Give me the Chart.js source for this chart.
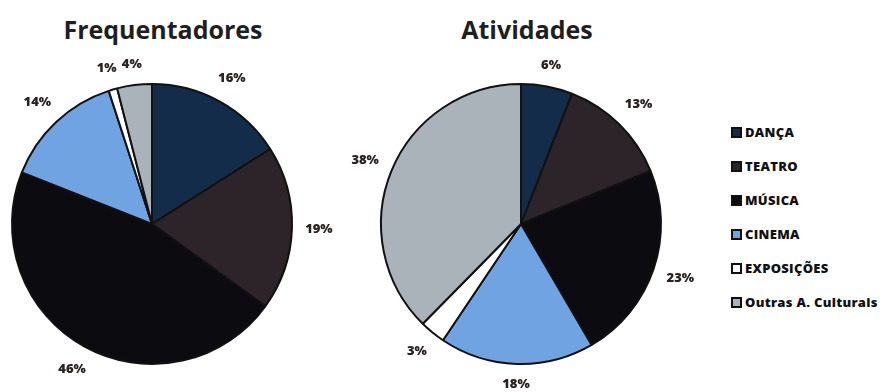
<!DOCTYPE html>
<html>
<head>
<meta charset="utf-8">
<script src="https://cdn.jsdelivr.net/npm/chart.js@4/dist/chart.umd.min.js"></script>
<style>
  body { margin: 0; width: 888px; height: 392px; background: #fff; position: relative; overflow: hidden; font-family: "Open Sans", sans-serif; }
  .title { position: absolute; top: 12px; font-weight: bold; font-size: 25px; color: #1f1f1f; transform: translateX(-50%); white-space: nowrap; line-height: 34px; }
  canvas { position: absolute; top: 0; }
  #legend { position: absolute; left: 731px; top: 115px; }
  .item { display: flex; align-items: center; height: 34px; font-weight: 800; font-size: 13px; color: #111; white-space: nowrap; letter-spacing: 0.3px; }
  .box { width: 7px; height: 7px; border: 2px solid #111; margin-right: 3px; }
</style>
</head>
<body>
<div class="title" style="left:163px">Frequentadores</div>
<div class="title" style="left:527px">Atividades</div>
<canvas id="pie1" width="345" height="392" style="left:0"></canvas>
<canvas id="pie2" width="375" height="392" style="left:345px"></canvas>
<div id="legend"></div>
<script>
const categories = ['DANÇA', 'TEATRO', 'MÚSICA', 'CINEMA', 'EXPOSIÇÕES', 'Outras A. Culturais'];
const frequentadores = [16, 19, 46, 14, 1, 4];
const atividades = [6, 13, 23, 18, 3, 38];
const colors = ['#132c4a', '#2c2429', '#0c0c10', '#6fa3e2', '#ffffff', '#aab3ba'];

// percentage labels just outside each slice
const pctLabels = {
  id: 'pctLabels',
  afterDatasetsDraw(chart) {
    const ctx = chart.ctx;
    const meta = chart.getDatasetMeta(0);
    const vals = chart.data.datasets[0].data;
    ctx.save();
    ctx.font = '800 13px "Open Sans"';
    ctx.fillStyle = '#2a2222';
    ctx.textAlign = 'center';
    ctx.textBaseline = 'middle';
    meta.data.forEach((arc, i) => {
      const p = arc.getProps(['x', 'y', 'startAngle', 'endAngle', 'outerRadius'], true);
      const mid = (p.startAngle + p.endAngle) / 2;
      const text = vals[i] + '%';
      const halfW = ctx.measureText(text).width / 2;
      const d = p.outerRadius + 13 + halfW * Math.abs(Math.cos(mid)) + 7 * Math.abs(Math.sin(mid));
      ctx.fillText(text, p.x + Math.cos(mid) * d, p.y + Math.sin(mid) * d);
    });
    ctx.restore();
  }
};

function makePie(id, values, padding) {
  new Chart(document.getElementById(id), {
    type: 'pie',
    data: {
      labels: categories,
      datasets: [{
        data: values,
        backgroundColor: colors,
        borderColor: '#111',
        borderWidth: 2
      }]
    },
    options: {
      responsive: false,
      animation: false,
      layout: { padding: padding },
      plugins: {
        legend: { display: false },
        tooltip: { enabled: false }
      }
    },
    plugins: [pctLabels]
  });
}

makePie('pie1', frequentadores, { left: 11, right: 52, top: 83, bottom: 27 });
makePie('pie2', atividades, { left: 35, right: 58, top: 83, bottom: 27 });

// legend
const legend = document.getElementById('legend');
categories.forEach((name, i) => {
  const item = document.createElement('div');
  item.className = 'item';
  item.innerHTML = `<span class="box" style="background:${colors[i]}"></span>${name}`;
  legend.appendChild(item);
});
</script>
</body>
</html>
